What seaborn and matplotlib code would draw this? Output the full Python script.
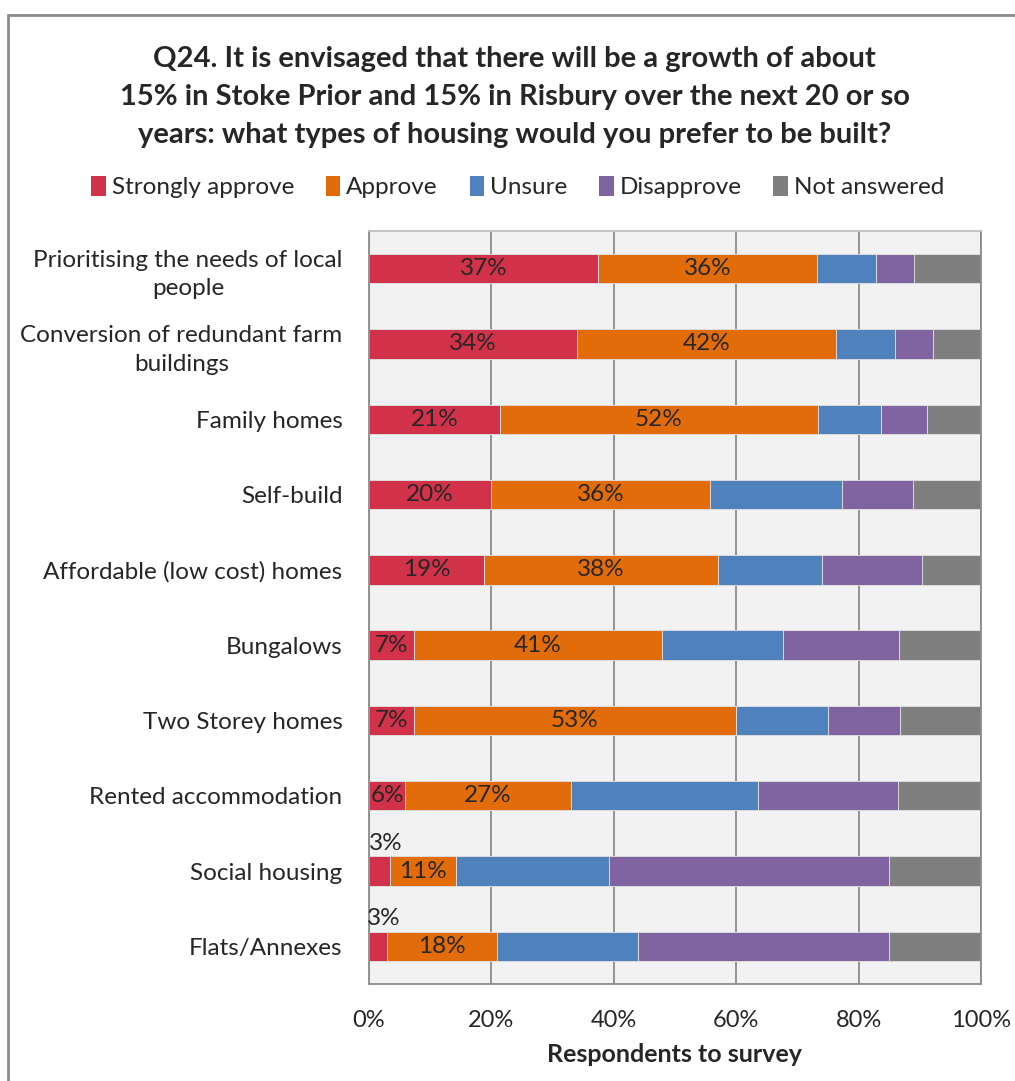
import pandas as pd
import matplotlib
matplotlib.use("Agg")
import matplotlib.pyplot as plt
from matplotlib import font_manager
from matplotlib.patches import Patch, Rectangle
import seaborn as sns

sns.set_style("white")

names = {f.name for f in font_manager.fontManager.ttflist}
family = "Liberation Sans Narrow" if "Liberation Sans Narrow" in names else "Lato"
plt.rcParams["font.family"] = [family, "DejaVu Sans"]

items = ["Prioritising the needs of local\npeople",
         "Conversion of redundant farm\nbuildings",
         "Family homes", "Self-build", "Affordable (low cost) homes",
         "Bungalows", "Two Storey homes", "Rented accommodation",
         "Social housing", "Flats/Annexes"]
responses = ["Strongly approve", "Approve", "Unsure", "Disapprove", "Not answered"]

strongly = [37.4, 34.0, 21.4, 19.9, 18.8, 7.3, 7.3, 5.9, 3.4, 2.9]
approve = [35.8, 42.3, 51.9, 35.9, 38.2, 40.6, 52.6, 27.1, 10.9, 18.1]
unsure = [9.7, 9.7, 10.3, 21.5, 17.1, 19.7, 15.1, 30.5, 25.0, 23.0]
disapprove = [6.1, 6.2, 7.6, 11.6, 16.3, 19.0, 11.7, 22.9, 45.6, 41.0]
not_answered = [11.0, 7.8, 8.8, 11.1, 9.6, 13.4, 13.3, 13.6, 15.1, 15.0]

colors = ["#D23249", "#E36C0A", "#4F81BD", "#8064A2", "#7F7F7F"]

df = pd.DataFrame({"item": items, "Strongly approve": strongly, "Approve": approve,
                   "Unsure": unsure, "Disapprove": disapprove, "Not answered": not_answered})
cum = df[responses].cumsum(axis=1)
cum["item"] = items

fig = plt.figure(figsize=(10.15, 10.81), dpi=100)
ax = fig.add_axes([0.3635, 0.0897, 0.6030, 0.6966])

# stacked bars: draw the cumulative totals from the right end back to the left
for resp, col in reversed(list(zip(responses, colors))):
    sns.barplot(data=cum, x=resp, y="item", order=items, orient="h", color=col,
                saturation=1, width=0.39, errorbar=None, edgecolor="#dcdcdc",
                linewidth=0.7, ax=ax)

ax.set_facecolor("#F2F2F2")
ax.set_xlim(0, 100)
ax.set_ylim(len(items) - 0.5, -0.5)
ax.set_xticks([0, 20, 40, 60, 80, 100])
ax.set_xticklabels(["0%", "20%", "40%", "60%", "80%", "100%"], fontsize=17)
ax.xaxis.grid(True, color="#8C8C8C", linewidth=1.3)
ax.set_axisbelow(True)
ax.tick_params(axis="x", length=6, color="#8C8C8C", pad=13)
ax.tick_params(axis="y", length=0, pad=19, labelsize=17.5)
for lab in ax.get_yticklabels():
    lab.set_multialignment("center")
    lab.set_linespacing(1.45)
ax.set_yticks([i - 0.5 for i in range(len(items) + 1)], minor=True)
ax.tick_params(axis="y", which="minor", length=6, color="#8C8C8C", width=1.3)
ax.set_xlabel("Respondents to survey", fontsize=18, fontweight="bold", labelpad=8)
ax.set_ylabel("")
for side in ["left", "bottom", "right", "top"]:
    ax.spines[side].set_color("#8C8C8C")
    ax.spines[side].set_linewidth(1.3)
ax.spines["top"].set_color("#BFBFBF")

for i in range(len(items)):
    s, a = strongly[i], approve[i]
    if s >= 5:
        ax.text(s / 2, i, f"{round(s)}%", ha="center", va="center", fontsize=17.5)
    else:
        ax.text(s / 2 + 1, i - 0.37, f"{round(s)}%", ha="center", va="center", fontsize=17.5)
    ax.text(s + a / 2, i, f"{round(a)}%", ha="center", va="center", fontsize=17.5)

handles = [Patch(facecolor=c, edgecolor="none") for c in colors]
fig.legend(handles, responses, loc="center", bbox_to_anchor=(0.51, 1 - 187 / 1081),
           ncol=5, frameon=False, fontsize=17.5, handlelength=0.6, handleheight=0.9,
           handletextpad=0.25, columnspacing=1.3)

fig.text(0.507, 1 - 97 / 1081,
         "Q24. It is envisaged that there will be a growth of about\n"
         "15% in Stoke Prior and 15% in Risbury over the next 20 or so\n"
         "years: what types of housing would you prefer to be built?",
         ha="center", va="center", fontsize=21, fontweight="bold", linespacing=1.55)

fig.patches.append(Rectangle((8 / 1015, -0.05), 1.1, 1.05 - 15 / 1081,
                             transform=fig.transFigure, fill=False,
                             edgecolor="#8C8C8C", linewidth=2))

fig.savefig("out.png", dpi=100)
